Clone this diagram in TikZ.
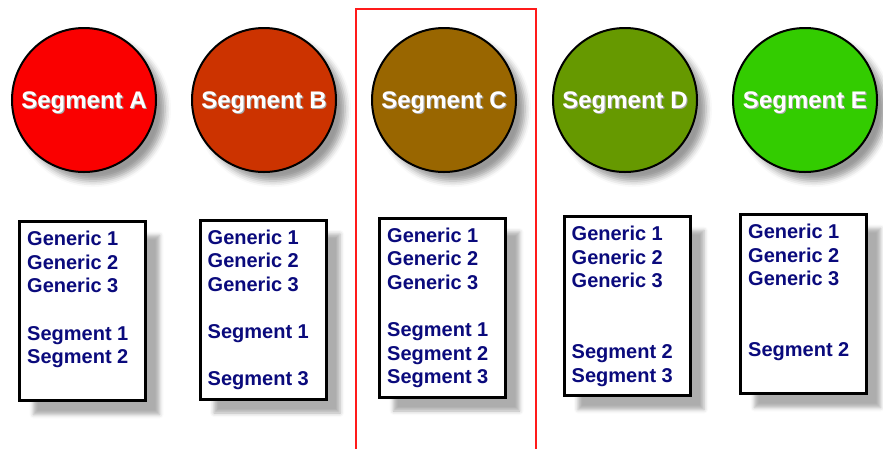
\documentclass[tikz,border=0pt]{standalone}
\usepackage{fontspec}
\setmainfont{Liberation Sans}
\usetikzlibrary{shadows.blur}
\definecolor{segA}{HTML}{FA0000}
\definecolor{segB}{HTML}{CC3300}
\definecolor{segC}{HTML}{996600}
\definecolor{segD}{HTML}{669900}
\definecolor{segE}{HTML}{33CC00}
\definecolor{navytext}{HTML}{0A0A7C}
\definecolor{frame}{HTML}{FF1A1A}
\newcommand\dropshadowtext[1]{\makebox[0pt][l]{\kern1.1pt\raisebox{-1.1pt}{\textcolor{black!35}{#1}}}#1}
\tikzset{
  seg/.style={circle, draw=black, line width=2pt, minimum size=144pt, inner sep=0pt,
    text height=22pt, text depth=4.8pt,
    text=white, font=\fontsize{24}{28}\selectfont\bfseries,
    blur shadow={shadow xshift=9pt, shadow yshift=-9pt, shadow blur radius=6pt, shadow opacity=40}},
  listbox/.style={rectangle, draw=black, line width=3pt, fill=white,
    minimum width=126pt, minimum height=179pt, inner sep=0pt,
    blur shadow={shadow xshift=14pt, shadow yshift=-14pt, shadow blur radius=4pt, shadow opacity=32}},
  listtext/.style={anchor=north west, align=left, inner sep=0pt, text=navytext,
    font=\fontsize{20}{23.6}\selectfont\bfseries},
  hl/.style={draw=frame, line width=2pt}
}
\begin{document}
\begin{tikzpicture}[x=1pt,y=-1pt]
\useasboundingbox (0,0) rectangle (883,448);
% highlight frame around column C
\coordinate (hlbl) at (356,452);
\coordinate (hltl) at (356,9);
\coordinate (hltr) at (536,9);
\coordinate (hlbr) at (536,452);
\draw[hl] (hlbl) -- (hltl) -- (hltr) -- (hlbr);
% circles
\node[seg, fill=segA] (cA) at (84,100) {\dropshadowtext{Segment A}};
\node[seg, fill=segB] (cB) at (264,100) {\dropshadowtext{Segment B}};
\node[seg, fill=segC] (cC) at (444,100) {\dropshadowtext{Segment C}};
\node[seg, fill=segD] (cD) at (625,100) {\dropshadowtext{Segment D}};
\node[seg, fill=segE] (cE) at (805,100) {\dropshadowtext{Segment E}};
% boxes
\node[listbox] (bA) at (82.5,311) {};
\node[listbox] (bB) at (263,309.5) {};
\node[listbox] (bC) at (442.5,307.5) {};
\node[listbox] (bD) at (627,306) {};
\node[listbox] (bE) at (803.5,304) {};
% texts
\node[listtext] (tA) at ([xshift=9pt,yshift=-11pt]bA.north west)
  {Generic 1\\Generic 2\\Generic 3\\[23.6pt]Segment 1\\Segment 2};
\node[listtext] (tB) at ([xshift=9pt,yshift=-11pt]bB.north west)
  {Generic 1\\Generic 2\\Generic 3\\[23.6pt]Segment 1\\[23.6pt]Segment 3};
\node[listtext] (tC) at ([xshift=9pt,yshift=-11pt]bC.north west)
  {Generic 1\\Generic 2\\Generic 3\\[23.6pt]Segment 1\\Segment 2\\Segment 3};
\node[listtext] (tD) at ([xshift=9pt,yshift=-11pt]bD.north west)
  {Generic 1\\Generic 2\\Generic 3\\[47.2pt]Segment 2\\Segment 3};
\node[listtext] (tE) at ([xshift=9pt,yshift=-11pt]bE.north west)
  {Generic 1\\Generic 2\\Generic 3\\[47.2pt]Segment 2};
\end{tikzpicture}
\end{document}
